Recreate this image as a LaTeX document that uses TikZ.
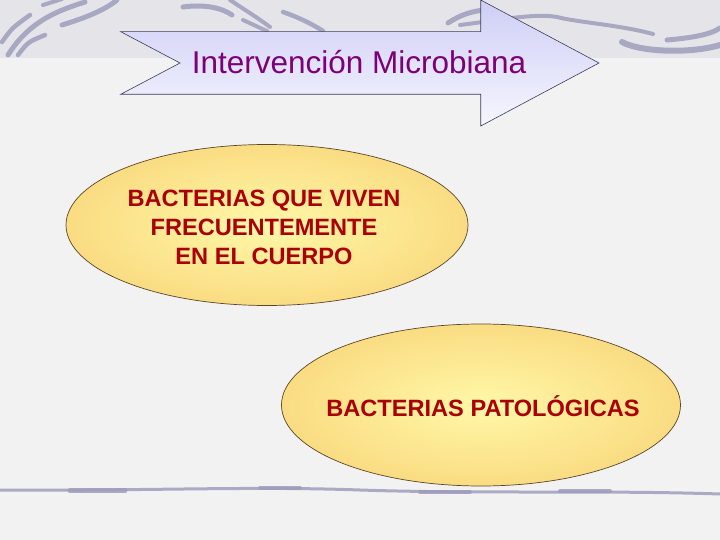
\documentclass[tikz,border=0pt]{standalone}
\usepackage{fontspec}
\setmainfont{Liberation Sans}
\usetikzlibrary{shapes.geometric}
\definecolor{bgc}{RGB}{242,242,242}
\definecolor{bandc}{RGB}{229,229,233}
\definecolor{brushc}{RGB}{158,158,188}
\definecolor{arrowtop}{RGB}{206,206,246}
\definecolor{arrowbot}{RGB}{246,246,255}
\definecolor{arrowline}{RGB}{60,60,90}
\definecolor{titlec}{RGB}{125,0,120}
\definecolor{bactc}{RGB}{170,0,8}
\definecolor{ellin}{RGB}{255,248,168}
\definecolor{ellout}{RGB}{250,220,130}
\definecolor{ellline}{RGB}{90,70,40}
\tikzset{
  brush/.style={draw=brushc, line width=#1, line cap=round, opacity=0.85},
  brush/.default=5pt,
  bubble/.style={ellipse, draw=ellline, line width=0.7pt, inner sep=0pt,
    inner color=ellin, outer color=ellout},
  bacttext/.style={text=bactc, font=\fontsize{23.6}{29}\selectfont\bfseries, align=center, anchor=base, inner sep=0pt},
}
\begin{document}
\begin{tikzpicture}[x=1pt,y=-1pt]
\useasboundingbox (0,0) rectangle (720,540);
% background
\fill[bgc] (0,0) rectangle (720,540);
\fill[bandc] (0,0) rectangle (720,58);
% brush strokes top-left
\draw[brush=4.5pt] (2,42) .. controls (12,28) .. (30,15);
\draw[brush=5pt] (8,55) .. controls (30,20) and (60,10) .. (85,2);
\draw[brush=4.5pt] (18,55) .. controls (28,42) .. (45,35);
\draw[brush=5pt] (62,25) .. controls (85,18) and (105,10) .. (117,0);
\draw[brush=4pt] (43,5) -- (62,-1);
% brush strokes top-center
\draw[brush=5pt] (183,7) .. controls (205,4) and (222,8) .. (232,15);
\draw[brush=4pt] (230,0) .. controls (245,10) and (258,18) .. (270,27);
\draw[brush=4pt] (243,20) .. controls (252,24) and (260,28) .. (267,31);
\draw[brush=4.5pt] (283,12) .. controls (300,18) and (312,24) .. (323,31);
% brush strokes top-right
\draw[brush=5pt] (448,23) .. controls (460,15) and (472,11) .. (485,10);
\draw[brush=4pt] (460,25) .. controls (500,20) and (535,13) .. (557,17)
   .. controls (575,22) and (620,25) .. (653,34);
\draw[brush=6pt] (622,42) .. controls (640,52) and (690,54) .. (720,45);
\draw[brush=5pt] (667,40) .. controls (690,38) and (710,35) .. (720,28);
% bottom brush line
\draw[brush=3pt] (0,490) .. controls (150,491) and (250,486) .. (360,490)
   .. controls (480,494) and (600,490) .. (720,494);
\draw[brush=5pt] (70,490.5) -- (125,490.5);
\draw[brush=4pt] (260,488) -- (300,488);
\draw[brush=4pt] (420,492) -- (470,492);
\draw[brush=4pt] (560,491) -- (610,491);
% title arrow
\path[draw=arrowline, line width=0.6pt, top color=arrowtop, bottom color=arrowbot]
  (120.7,31.7) -- (480.7,31.7) -- (480.7,0) -- (599,63) -- (480.7,126)
  -- (480.7,94.3) -- (120.7,94.3) -- (180,63) -- cycle;
\node[text=titlec, font=\fontsize{31.5}{36}\selectfont, anchor=base, inner sep=0pt]
  (title) at (359,73.3) {Intervención Microbiana};
% ellipses
\node[bubble, minimum width=402pt, minimum height=161pt] (e1) at (267,225) {};
\node[bacttext] (t1) at (264,264.5) {BACTERIAS QUE VIVEN\\FRECUENTEMENTE\\EN EL CUERPO};
\node[bubble, minimum width=399pt, minimum height=162pt] (e2) at (481,405) {};
\node[bacttext] (t2) at (483,416.7) {BACTERIAS PATOLÓGICAS};
\end{tikzpicture}
\end{document}
